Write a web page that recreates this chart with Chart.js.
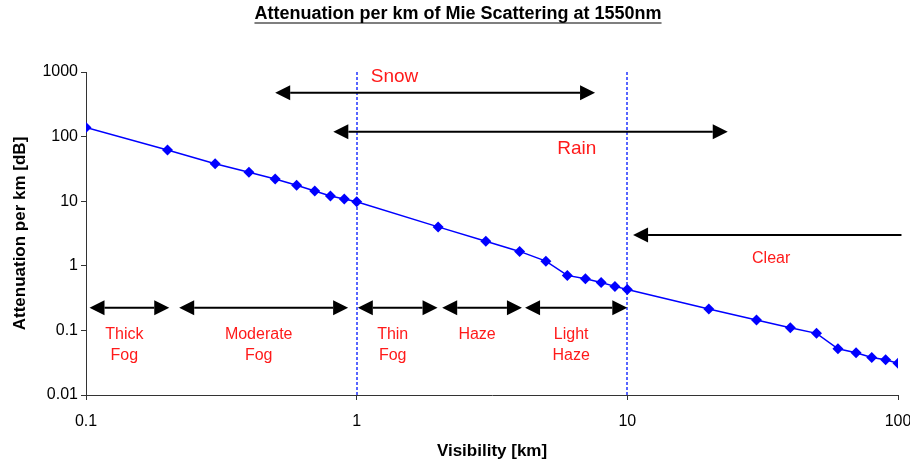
<!DOCTYPE html>
<html>
<head>
<meta charset="utf-8">
<script src="https://cdn.jsdelivr.net/npm/chart.js@4.4.1/dist/chart.umd.min.js"></script>
<style>
  html, body { margin: 0; padding: 0; background: #fff; }
  #mie { display: block; }
</style>
</head>
<body>
<canvas id="mie" width="910" height="465"></canvas>
<script>
// values
const visibility = [0.1, 0.2, 0.3, 0.4, 0.5, 0.6, 0.7, 0.8, 0.9, 1, 2, 3, 4, 5, 6, 7, 8, 9, 10, 20, 30, 40, 50, 60, 70, 80, 90, 100];
const attenuation = [138, 62, 38, 28, 22, 17.7, 14.4, 12, 10.8, 9.8, 4.0, 2.4, 1.67, 1.18, 0.71, 0.63, 0.55, 0.48, 0.43, 0.215, 0.145, 0.11, 0.09, 0.052, 0.045, 0.038, 0.035, 0.031];
const xTicks = [0.1, 1, 10, 100];
const yTicks = [0.01, 0.1, 1, 10, 100, 1000];
const dividers = [1, 10];

// visibility ranges (bottom row)
const fogNames = [['Thick', 'Fog'], ['Moderate', 'Fog'], ['Thin', 'Fog'], ['Haze'], ['Light', 'Haze']];
const fogFrom = [0.103, 0.221, 1.01, 2.07, 4.19];
const fogTo = [0.203, 0.93, 1.99, 4.08, 10];
const fogArrowY = 0.224;
const fogLabelY = 0.085;

// weather ranges (upper arrows)
const weatherNames = ['Snow', 'Rain', 'Clear'];
const weatherFrom = [0.5, 0.82, 10.5];
const weatherTo = [7.6, 23.5, 103];
const weatherArrowY = [477, 119, 3.0];
const weatherHeads = ['both', 'both', 'left'];
const weatherLabelX = [1.38, 6.5, 34];
const weatherLabelY = [857, 64, 1.3];
const weatherFontSize = [19, 19, 16];

const FONT = "'Liberation Sans', Arial, sans-serif";

function arrow(ctx, x1, x2, y, heads){
  const hl = 15, hw = 7.5;
  let a = x1, b = x2;
  if (heads === 'both' || heads === 'left') a = x1 + hl;
  if (heads === 'both') b = x2 - hl;
  ctx.strokeStyle = '#000';
  ctx.fillStyle = '#000';
  ctx.lineWidth = 2;
  ctx.beginPath();
  ctx.moveTo(a, y);
  ctx.lineTo(b, y);
  ctx.stroke();
  if (heads === 'both' || heads === 'left'){
    ctx.beginPath();
    ctx.moveTo(x1, y);
    ctx.lineTo(x1 + hl, y - hw);
    ctx.lineTo(x1 + hl, y + hw);
    ctx.closePath();
    ctx.fill();
  }
  if (heads === 'both'){
    ctx.beginPath();
    ctx.moveTo(x2, y);
    ctx.lineTo(x2 - hl, y - hw);
    ctx.lineTo(x2 - hl, y + hw);
    ctx.closePath();
    ctx.fill();
  }
}

const titlePlugin = {
  id: 'underlinedTitle',
  afterDraw(chart){
    const ctx = chart.ctx;
    const text = 'Attenuation per km of Mie Scattering at 1550nm';
    ctx.save();
    ctx.font = 'bold 18px ' + FONT;
    ctx.fillStyle = '#000';
    ctx.textAlign = 'center';
    ctx.textBaseline = 'middle';
    const cx = chart.width / 2 + 3;
    ctx.fillText(text, cx, 14);
    const w = ctx.measureText(text).width;
    ctx.strokeStyle = '#000';
    ctx.lineWidth = 1.2;
    ctx.beginPath();
    ctx.moveTo(cx - w / 2, 23);
    ctx.lineTo(cx + w / 2, 23);
    ctx.stroke();
    ctx.restore();
  }
};

const dividerPlugin = {
  id: 'dividers',
  beforeDatasetsDraw(chart){
    const ctx = chart.ctx, x = chart.scales.x, area = chart.chartArea;
    ctx.save();
    ctx.strokeStyle = '#2233ff';
    ctx.lineWidth = 1.5;
    ctx.setLineDash([3, 2]);
    dividers.forEach(function(v){
      const px = Math.round(x.getPixelForValue(v));
      ctx.beginPath();
      ctx.moveTo(px, area.top);
      ctx.lineTo(px, area.bottom);
      ctx.stroke();
    });
    ctx.restore();
  }
};

const rangePlugin = {
  id: 'ranges',
  afterDatasetsDraw(chart){
    const ctx = chart.ctx, x = chart.scales.x, y = chart.scales.y;
    ctx.save();
    ctx.textAlign = 'center';
    ctx.textBaseline = 'middle';

    // upper arrows
    weatherNames.forEach(function(name, i){
      const py = y.getPixelForValue(weatherArrowY[i]);
      arrow(ctx, x.getPixelForValue(weatherFrom[i]), x.getPixelForValue(weatherTo[i]), py, weatherHeads[i]);
      ctx.fillStyle = '#ff1a1a';
      ctx.font = weatherFontSize[i] + 'px ' + FONT;
      ctx.fillText(name, x.getPixelForValue(weatherLabelX[i]), y.getPixelForValue(weatherLabelY[i]));
    });

    // fog / haze row
    const fy = y.getPixelForValue(fogArrowY);
    const ly = y.getPixelForValue(fogLabelY);
    fogNames.forEach(function(lines, i){
      const a = x.getPixelForValue(fogFrom[i]);
      const b = x.getPixelForValue(fogTo[i]);
      arrow(ctx, a, b, fy, 'both');
      ctx.fillStyle = '#ff1a1a';
      ctx.font = '16px ' + FONT;
      lines.forEach(function(t, k){
        ctx.fillText(t, (a + b) / 2 - 5, ly + k * 21);
      });
    });
    ctx.restore();
  }
};

function createChart(){
  const ctx = document.getElementById('mie').getContext('2d');
  new Chart(ctx, {
    type: 'line',
    data: {
      labels: visibility,
      datasets: [{
        data: visibility.map(function(v, i){ return {x: v, y: attenuation[i]}; }),
        borderColor: '#0000ff',
        backgroundColor: '#0000ff',
        borderWidth: 1.5,
        pointStyle: 'rectRot',
        pointRadius: 5.5,
        pointBorderWidth: 0,
        tension: 0,
        fill: false
      }]
    },
    options: {
      responsive: false,
      animation: false,
      layout: { padding: { top: 72, right: 12, left: 0, bottom: 0 } },
      plugins: {
        legend: { display: false },
        tooltip: { enabled: false },
        title: { display: false }
      },
      scales: {
        x: {
          type: 'logarithmic',
          min: 0.1,
          max: 100,
          afterBuildTicks: function(s){ s.ticks = xTicks.map(function(v){ return {value: v}; }); },
          afterFit: function(s){ s.height = 70; s.paddingRight = 0; s.paddingLeft = 0; },
          ticks: {
            autoSkip: false,
            maxRotation: 0,
            padding: 12,
            color: '#000',
            font: { family: FONT, size: 16 },
            callback: function(v){ return String(v); }
          },
          grid: { drawOnChartArea: false, drawTicks: true, tickLength: 5, color: '#333' },
          border: { display: true, color: '#333', width: 1 },
          title: {
            display: true,
            text: 'Visibility [km]',
            color: '#000',
            font: { family: FONT, size: 17, weight: 'bold' },
            padding: { top: 0, bottom: 3 }
          }
        },
        y: {
          type: 'logarithmic',
          min: 0.01,
          max: 1000,
          afterBuildTicks: function(s){ s.ticks = yTicks.map(function(v){ return {value: v}; }); },
          afterFit: function(s){ s.width = 86; s.paddingTop = 0; s.paddingBottom = 0; },
          ticks: {
            autoSkip: false,
            padding: 3,
            color: '#000',
            font: { family: FONT, size: 16 },
            callback: function(v){ return String(v); }
          },
          grid: { drawOnChartArea: false, drawTicks: true, tickLength: 5, color: '#333' },
          border: { display: true, color: '#333', width: 1 },
          title: {
            display: true,
            text: 'Attenuation per km [dB]',
            color: '#000',
            font: { family: FONT, size: 17, weight: 'bold' },
            padding: { top: 10, bottom: 0 }
          }
        }
      }
    },
    plugins: [titlePlugin, dividerPlugin, rangePlugin]
  });
}

createChart();
</script>
</body>
</html>
